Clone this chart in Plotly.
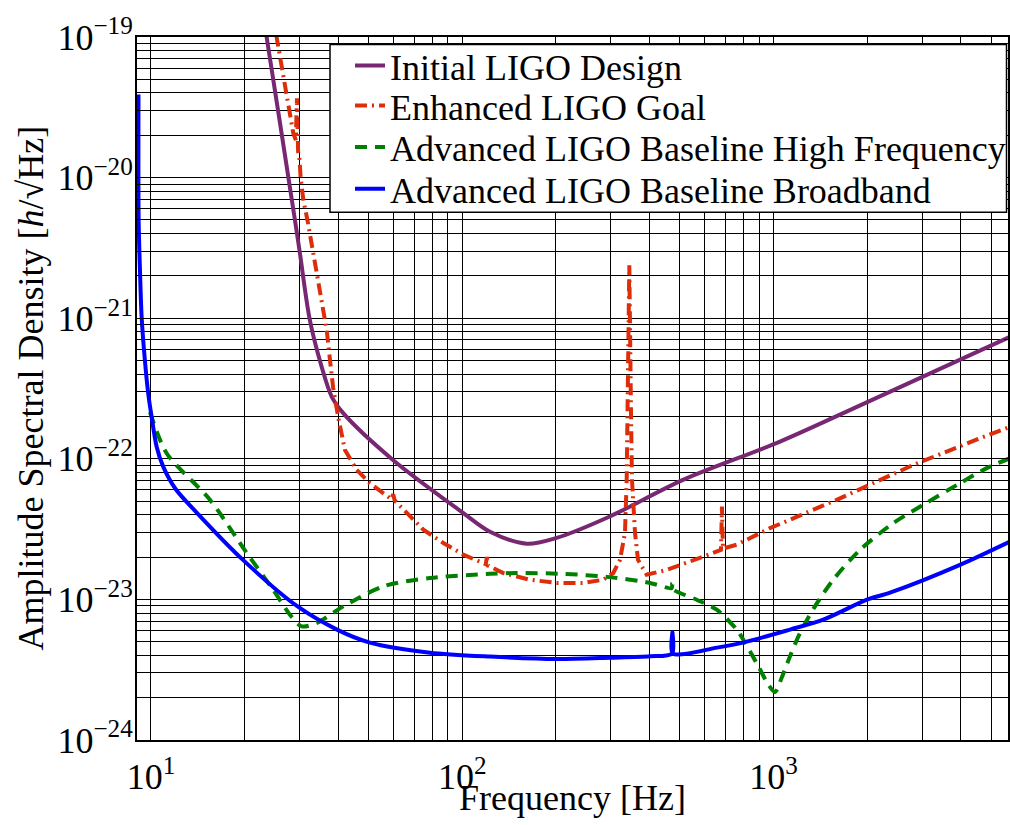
import plotly.graph_objects as go
import math

# ---- data ----
initial_f = [22.0, 23.53, 29.02, 30.1, 32.4, 35.35, 38.07, 41.4, 59.9, 100.6, 122.8, 161, 201,
             298, 512, 1049, 1993, 5753]
initial_h = [2.5e-19, 1.0e-19, 4.97e-21, 2.90e-21, 9.69e-22, 4.52e-22, 2.77e-22, 2.12e-22, 9.82e-23,
             4.13e-23, 3.03e-23, 2.49e-23, 2.74e-23, 3.89e-23, 7.08e-23, 1.325e-22, 2.52e-22, 7.38e-22]

enhanced_f = [24.5, 25.34, 26.3, 27.14, 27.81, 28.66, 29.2, 29.45, 29.7, 29.96, 30.27, 30.86, 31.88,
              33.22, 35.35, 36.7, 37.6, 38.5, 40.0, 42.0, 45.8, 50.5, 59.3, 60.0, 60.7, 75.0, 86.96,
              100.8, 119.0, 120.0, 121.0, 135.5, 165, 201, 244.8, 283.9, 305.7, 321.2, 333.3, 337.6,
              339.6, 344.2, 348.5, 351.1, 359, 367, 391.4, 453.9, 539, 657, 678, 683, 688, 761.7,
              974.3, 1596, 2813, 4608, 5753]
enhanced_h = [1.53e-19, 1.0e-19, 5.88e-20, 4.10e-20, 2.96e-20, 2.07e-20, 1.85e-20, 3.67e-20, 1.53e-20,
              1.417e-20, 9.94e-21, 6.98e-21, 4.89e-21, 2.89e-21, 1.42e-21, 8.23e-22, 5.04e-22,
              3.19e-22, 1.95e-22, 1.157e-22, 8.34e-23, 6.71e-23, 5.15e-23, 5.6e-23, 5.05e-23,
              3.13e-23, 2.52e-23, 2.08e-23, 1.78e-23, 2.0e-23, 1.74e-23, 1.54e-23, 1.38e-23,
              1.31e-23, 1.31e-23, 1.38e-23, 1.54e-23, 1.91e-23, 2.96e-23, 7.08e-23, 2.12e-22,
              2.38e-21, 2.12e-22, 7.08e-23, 2.98e-23, 1.91e-23, 1.50e-23, 1.62e-23, 1.86e-23,
              2.19e-23, 2.25e-23, 4.58e-23, 2.3e-23, 2.45e-23, 3.21e-23, 5.11e-23, 9.05e-23,
              1.40e-22, 1.69e-22]

adv_hf_f = [9.93, 11.23, 15.47, 20.3, 24.7, 27.96, 30.5, 34.1, 41.5, 55.8, 78.8, 122.8, 149.6, 211,
            298, 401, 471, 472.5, 474, 566.5, 657, 761.7, 800, 894, 962, 1011, 1062.5, 1130, 1217,
            1359, 1556, 1896, 2426, 3029, 3973, 4842, 5753]
adv_hf_h = [2.15e-22, 1.096e-22, 5.11e-23, 2.14e-23, 1.17e-23, 7.79e-24, 6.43e-24, 6.80e-24,
            8.92e-24, 1.24e-23, 1.42e-23, 1.52e-23, 1.54e-23, 1.52e-23, 1.44e-23, 1.31e-23,
            1.205e-23, 1.3e-23, 1.19e-23, 9.95e-24, 8.45e-24, 6.10e-24, 5.17e-24, 3.34e-24,
            2.48e-24, 2.19e-24, 2.77e-24, 3.94e-24, 5.77e-24, 8.92e-24, 1.38e-23, 2.25e-23,
            3.49e-23, 4.71e-23, 6.71e-23, 8.58e-23, 1.01e-22]

adv_bb_f = [9.12, 9.13, 9.22, 9.335, 9.566, 9.80, 10.05, 10.43, 10.95, 12.0, 14.05, 19.75, 29.67,
            39.6, 50.5, 78.8, 122.8, 201.6, 298.3, 401, 472, 473.5, 475, 658.3, 798, 1130, 1445,
            1997, 2368, 3973, 5753]
adv_bb_h = [3.9e-20, 4.97e-21, 2.20e-21, 1.02e-21, 4.97e-22, 2.92e-22, 1.99e-22, 1.22e-22, 8.80e-23,
            6.1e-23, 4.13e-23, 1.91e-23, 8.87e-24, 6.10e-24, 4.93e-24, 4.18e-24, 3.92e-24, 3.77e-24,
            3.85e-24, 3.94e-24, 4.12e-24, 5.83e-24, 4.13e-24, 4.54e-24, 4.93e-24, 6.10e-24,
            7.17e-24, 9.95e-24, 1.116e-23, 1.76e-23, 2.58e-23]

series_names = ["Initial LIGO Design", "Enhanced LIGO Goal",
                "Advanced LIGO Baseline High Frequency", "Advanced LIGO Baseline Broadband"]

x_tick_vals = [10, 100, 1000]
x_tick_text = ["10<sup>1</sup>", "10<sup>2</sup>", "10<sup>3</sup>"]
y_tick_vals = [1e-24, 1e-23, 1e-22, 1e-21, 1e-20, 1e-19]
y_tick_text = ["10<sup>\u221224</sup>", "10<sup>\u221223</sup>", "10<sup>\u221222</sup>",
               "10<sup>\u221221</sup>", "10<sup>\u221220</sup>", "10<sup>\u221219</sup>"]

x_range = [9.02, 5667]
y_range = [1e-24, 1e-19]

# ---- figure ----
FONT = "Liberation Serif, Times New Roman, serif"
FS = 36
W, H = 1010, 825
ML, MR, MT, MB = 137, 2, 36.5, 84.5
PW, PH = W - ML - MR, H - MT - MB


def px_x(p):
    return (p - ML) / PW


def px_y(p):
    return (H - MB - p) / PH


fig = go.Figure()
traces = [
    (initial_f, initial_h, dict(color="rgb(120,40,115)", width=4, shape="spline", smoothing=0.9), "legend"),
    (enhanced_f, enhanced_h, dict(color="rgb(222,45,10)", width=4, dash="12px,5px,2px,5px"), "legend2"),
    (adv_hf_f, adv_hf_h, dict(color="rgb(0,128,0)", width=4, dash="12px,8px", shape="spline", smoothing=0.8), "legend3"),
    (adv_bb_f, adv_bb_h, dict(color="rgb(0,0,255)", width=4, shape="spline", smoothing=0.8), "legend4"),
]
for (fx, hy, ln, lg), nm in zip(traces, series_names):
    fig.add_trace(go.Scatter(x=fx, y=hy, mode="lines", name=nm, line=ln, legend=lg))

minor_x = [d * 10 ** e for e in range(0, 4) for d in range(2, 10)]
minor_y = [d * 10.0 ** e for e in range(-25, -19) for d in range(2, 10)]

axis_common = dict(
    showgrid=True, gridcolor="black", gridwidth=1.4,
    showline=True, linecolor="black", linewidth=2, mirror="ticks",
    ticks="inside", ticklen=8, tickcolor="black", tickwidth=1,
    zeroline=False, tickfont=dict(family=FONT, size=FS, color="black"),
)
minor_common = dict(showgrid=True, gridcolor="black", gridwidth=1.4,
                    ticks="inside", ticklen=4, tickcolor="black")

fig.update_xaxes(type="log", range=[math.log10(x_range[0]), math.log10(x_range[1])],
                 tickmode="array", tickvals=x_tick_vals, ticktext=x_tick_text,
                 ticklabelstandoff=4,
                 minor=dict(tickmode="array", tickvals=minor_x, **minor_common),
                 **axis_common)
fig.update_yaxes(type="log", range=[math.log10(y_range[0]), math.log10(y_range[1])],
                 tickmode="array", tickvals=y_tick_vals, ticktext=y_tick_text,
                 ticklabelstandoff=-5,
                 minor=dict(tickmode="array", tickvals=minor_y, **minor_common),
                 **axis_common)

legend_rows = [66.7, 106.7, 148.3, 190.0]
legend_style = dict(xanchor="left", yanchor="middle", bgcolor="rgba(0,0,0,0)",
                    borderwidth=0, font=dict(family=FONT, size=FS, color="black"))
legends = {}
for i, row in enumerate(legend_rows):
    key = "legend" if i == 0 else "legend%d" % (i + 1)
    legends[key] = dict(x=px_x(350), y=px_y(row - 1.5), **legend_style)

fig.update_layout(
    width=W, height=H,
    margin=dict(l=ML, r=MR, t=MT, b=MB, autoexpand=False),
    paper_bgcolor="white", plot_bgcolor="white",
    font=dict(family=FONT, size=FS, color="black"),
    showlegend=True,
    shapes=[dict(type="rect", xref="paper", yref="paper",
                 x0=px_x(330), x1=px_x(1006.5), y0=px_y(212), y1=px_y(44),
                 fillcolor="white", line=dict(color="black", width=1.5), layer="above")],
    annotations=[
        dict(text="Frequency [Hz]", xref="paper", yref="paper", x=0.5, y=px_y(799),
             xanchor="center", yanchor="middle", showarrow=False,
             font=dict(family=FONT, size=FS, color="black")),
        dict(text="Amplitude Spectral Density [<i>h</i>/\u221aHz]", xref="paper", yref="paper",
             x=px_x(30), y=0.5, xanchor="center", yanchor="middle", textangle=-90,
             showarrow=False, font=dict(family=FONT, size=FS, color="black")),
    ],
    **legends,
)

fig.write_html("out.html", config={"displayModeBar": False},
               post_script="document.body.style.margin='0';document.body.style.padding='0';"
                           "document.body.style.overflow='hidden';")
